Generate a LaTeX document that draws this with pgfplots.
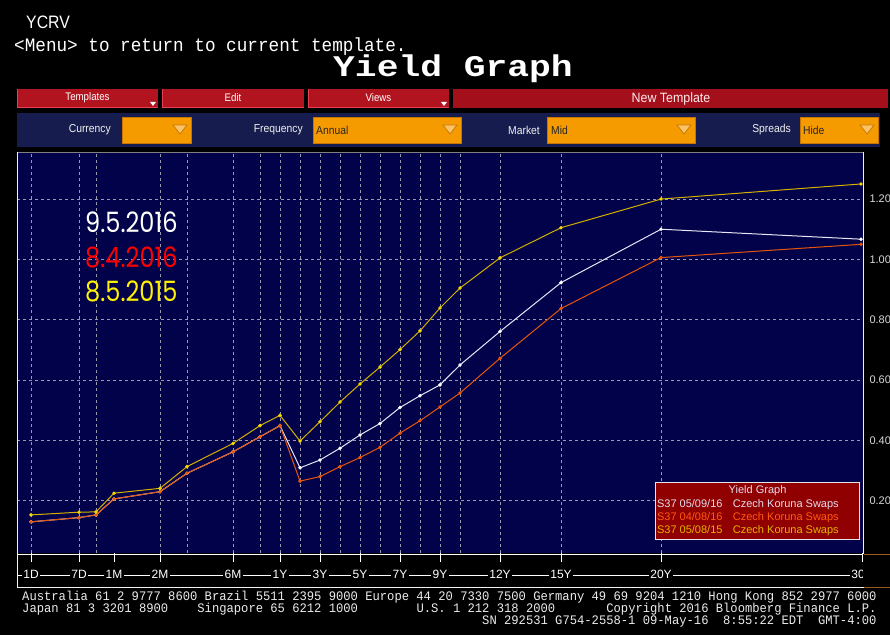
\documentclass[border=0pt]{standalone}
\usepackage{fontspec}
\setmainfont{Liberation Sans}
\newfontfamily\mono{Liberation Mono}
\newfontfamily\pop{Poppins}
\usepackage{graphicx}
\usepackage{pgfplots}
\pgfplotsset{compat=1.18}
\definecolor{plotbg}{HTML}{02024A}
\definecolor{panel}{HTML}{161D4E}
\definecolor{obox}{HTML}{F59B00}
\definecolor{oboxd}{HTML}{C87400}
\definecolor{btn}{HTML}{B2141F}
\definecolor{btnhi}{HTML}{E8404C}
\definecolor{newt}{HTML}{A3101C}
\definecolor{gridc}{HTML}{9A9AAA}
\definecolor{wline}{HTML}{E6E6F6}
\definecolor{oline}{HTML}{E8550A}
\definecolor{yline}{HTML}{D4B000}
\definecolor{ymark}{HTML}{F2D400}
\definecolor{legbg}{HTML}{900000}
\definecolor{legw}{HTML}{E4DCF0}
\definecolor{lego}{HTML}{FF5A10}
\definecolor{legy}{HTML}{E2B400}
\definecolor{ylab}{HTML}{D8D8D8}
\definecolor{brownb}{HTML}{9A5A1A}
\begin{document}
\begin{tikzpicture}
\path[use as bounding box] (0,0) rectangle (890pt,635pt);
\fill[black] (0,0) rectangle (890pt,635pt);
\begin{scope}[x=1pt,y=-1pt,shift={(0pt,635pt)}]
  % header texts
  \node[anchor=base west,inner sep=0pt,text=white] at (26,29) {\scalebox{0.88}[1]{\fontsize{18}{18}\selectfont YCRV}};
  \node[anchor=base west,inner sep=0pt,text=white] at (14,52) {\scalebox{0.93}[1]{\mono\fontsize{19}{19}\selectfont <Menu> to return to current template.}};
  \node[anchor=base,inner sep=0pt,text=white] at (453,77) {\scalebox{1.21}[1]{\mono\bfseries\fontsize{30}{30}\selectfont Yield Graph}};
  % buttons row
  \foreach \a/\b/\t in {17/158/Templates,162/304/Edit,308/449/Views}{
    \fill[btn] (\a,89) rectangle (\b,108);
    \draw[btnhi,line width=1pt] (\a+0.5,89) -- (\a+0.5,107.5) -- (\b,107.5);
    \node[text=white,inner sep=0pt] at ({(\a+\b)/2},98) {\scalebox{0.88}[1]{\fontsize{11}{11}\selectfont \t}};
  }
  \fill[white] (150,102) -- (156,102) -- (153,106) -- cycle;
  \fill[white] (441,102) -- (447,102) -- (444,106) -- cycle;
  \fill[newt] (453,89) rectangle (888,108);
  \node[text=white!92!red,inner sep=0pt] at (671,99) {\scalebox{0.92}[1]{\fontsize{13.5}{13.5}\selectfont New Template}};
  % second row panel
  \fill[panel] (17,113) rectangle (880,147);
  \foreach \a/\b in {122/191,313/461,547/695,800/878}{
    \fill[obox] (\a,117) rectangle (\b,143);
    \draw[oboxd,line width=0.6pt] (\a,117) rectangle (\b,143);
    \filldraw[fill=obox!60!white,draw=oboxd,line width=0.7pt] (\b-18,125) -- (\b-4,125) -- (\b-11,134) -- cycle;
  }
  \foreach \x/\t in {111/Currency,303/Frequency,540/Market,791/Spreads}{
    \node[anchor=east,inner sep=0pt,text=white!88!gray] at (\x,130) {\scalebox{0.9}[1]{\fontsize{11.5}{11.5}\selectfont \t}};
  }
  \foreach \x/\t in {316/Annual,551/Mid,803/Hide}{
    \node[anchor=west,inner sep=0pt,text=black!85] at (\x,130) {\scalebox{0.9}[1]{\fontsize{11.5}{11.5}\selectfont \t}};
  }
  % footer
  \node[anchor=base west,inner sep=0pt,text=white!85!gray] at (22,600) {\scalebox{0.936}[1]{\mono\fontsize{13}{13}\selectfont Australia~61~2~9777~8600~Brazil~5511~2395~9000~Europe~44~20~7330~7500~Germany~49~69~9204~1210~Hong~Kong~852~2977~6000}};
  \node[anchor=base west,inner sep=0pt,text=white!85!gray] at (22,612) {\scalebox{0.936}[1]{\mono\fontsize{13}{13}\selectfont Japan~81~3~3201~8900~~~~Singapore~65~6212~1000~~~~~~~~U.S.~1~212~318~2000~~~~~~~Copyright~2016~Bloomberg~Finance~L.P.}};
  \node[anchor=base west,inner sep=0pt,text=white!85!gray] at (22,624) {\scalebox{0.936}[1]{\mono\fontsize{13}{13}\selectfont ~~~~~~~~~~~~~~~~~~~~~~~~~~~~~~~~~~~~~~~~~~~~~~~~~~~~~~~~~~~~~~~SN~292531~G754-2558-1~09-May-16~~8:55:22~EDT~~GMT-4:00}};
  % connecting line of bottom labels
  \draw[white,line width=0.8pt] (17,575) -- (862,575);
\end{scope}
\begin{axis}[
  at={(17pt,82pt)}, anchor=south west,
  scale only axis, width=846pt, height=401pt,
  xmin=17, xmax=863, ymin=0.0267, ymax=1.356,
  axis background/.style={fill=plotbg},
  axis line style={draw=none},
  tick align=outside,
  xtick pos=left, ytick pos=right,
  yticklabel pos=right,
  major tick length=9pt,
  xtick={31,79,114,160,233,280,320,360,400,440,500,561,661,862},
  xticklabels={1D,7D,1M,2M,6M,1Y,3Y,5Y,7Y,9Y,12Y,15Y,20Y,30Y},
  extra x ticks={31,79,96,160,187,233,260,280,300,320,340,360,380,400,420,440,460,500,561,661},
  extra x tick labels={},
  extra x tick style={grid=major, major tick length=0pt, xticklabel style={fill=none}},
  ytick={0.2,0.4,0.6,0.8,1.0,1.2},
  ymajorgrids=true,
  grid style={draw=gridc, dash pattern=on 3pt off 3pt, line width=0.6pt},
  x tick style={draw=white, line width=0.8pt},
  y tick style={draw=none},
  xticklabel style={font=\fontsize{12}{12}\selectfont, text=white, fill=black, inner sep=1.2pt, yshift=-7pt},
  yticklabel style={font=\fontsize{11}{11}\selectfont, text=ylab, xshift=-6pt, /pgf/number format/.cd, fixed, fixed zerofill, precision=2, assume math mode=true},
  legend image code/.code={},
  legend cell align=left,
  legend style={font=\fontsize{11}{12}\selectfont, fill=legbg, draw=white!80!gray, line width=0.8pt,
    at={(0.9965,0.177)}, anchor=north east, inner xsep=1pt, inner ysep=1.5pt, row sep=0pt,
    nodes={inner sep=0.6pt, text height=9.2pt, text depth=3pt}},
]
\addlegendimage{empty legend}
\addlegendentry{\makebox[201pt][c]{\textcolor{legw}{Yield Graph}}}
% 9.5.2016 (white)
\addplot[color=wline, line width=1pt, mark=*, mark size=1.2pt, mark options={fill=white,draw=white}] coordinates {
(31,0.130) (79,0.144) (96,0.153) (114,0.206) (160,0.230) (187,0.291) (233,0.362) (260,0.412) (280,0.449)
(300,0.309) (320,0.335) (340,0.374) (360,0.418) (380,0.456) (400,0.509) (420,0.548) (440,0.584)
(460,0.650) (500,0.761) (561,0.923) (661,1.100) (861,1.067)};
\addlegendentry{\makebox[201pt][l]{\textcolor{legw}{S37 05/09/16\hspace{0.95em}Czech Koruna Swaps}}}
% 8.4.2016 (orange)
\addplot[color=oline, line width=1pt, mark=*, mark size=1.2pt, mark options={fill=oline,draw=oline}] coordinates {
(31,0.130) (79,0.144) (96,0.153) (114,0.206) (160,0.230) (187,0.291) (233,0.362) (260,0.412) (280,0.449)
(300,0.265) (320,0.280) (340,0.313) (360,0.343) (380,0.377) (400,0.424) (420,0.465) (440,0.511)
(460,0.557) (500,0.672) (561,0.837) (661,1.006) (861,1.050)};
\addlegendentry{\makebox[201pt][l]{\textcolor{lego}{S37 04/08/16\hspace{0.95em}Czech Koruna Swaps}}}
% 8.5.2015 (yellow)
\addplot[color=yline, line width=1pt, mark=*, mark size=1.2pt, mark options={fill=ymark,draw=ymark}] coordinates {
(31,0.153) (79,0.162) (96,0.163) (114,0.225) (160,0.241) (187,0.313) (233,0.390) (260,0.449) (280,0.483)
(300,0.398) (320,0.462) (340,0.527) (360,0.587) (380,0.643) (400,0.701) (420,0.763) (440,0.839)
(460,0.905) (500,1.005) (561,1.105) (661,1.200) (861,1.250)};
\addlegendentry{\makebox[201pt][l]{\textcolor{legy}{S37 05/08/15\hspace{0.95em}Czech Koruna Swaps}}}
\end{axis}
\begin{scope}[x=1pt,y=-1pt,shift={(0pt,635pt)}]
  % frame
  \draw[gray,line width=0.8pt] (17,152) -- (863,152);
  \draw[white!90!gray,line width=0.8pt] (17,152) -- (17,587) -- (863,587) -- (863,152);
  \draw[white,line width=0.8pt] (17,554) -- (863,554);
  \fill[black] (863.4,554.4) rectangle (890,586.6);
  \draw[brownb,line width=0.8pt] (864,554) -- (890,554);
  \draw[brownb,line width=0.8pt] (864,587) -- (890,587);
  % date annotations
  \node[anchor=west,inner sep=0pt,text=white] at (85,222) {\scalebox{0.86}[1]{\pop\fontsize{28}{28}\selectfont 9.5.2016}};
  \node[anchor=west,inner sep=0pt,text=red] at (85,257) {\scalebox{0.86}[1]{\pop\fontsize{28}{28}\selectfont 8.4.2016}};
  \node[anchor=west,inner sep=0pt,text=yellow] at (85,291) {\scalebox{0.86}[1]{\pop\fontsize{28}{28}\selectfont 8.5.2015}};
\end{scope}
\end{tikzpicture}
\end{document}
